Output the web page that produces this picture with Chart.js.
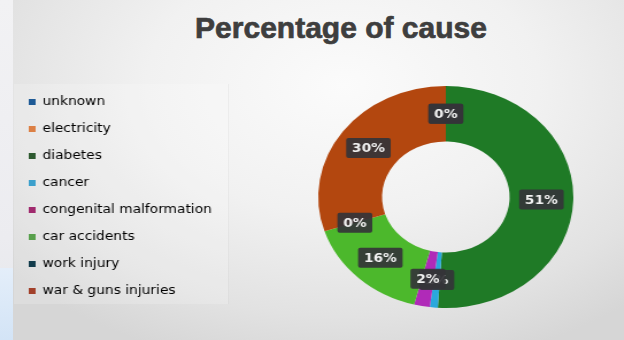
<!DOCTYPE html>
<html>
<head>
<meta charset="utf-8">
<script src="https://cdn.jsdelivr.net/npm/chart.js@4.4.1/dist/chart.umd.min.js"></script>
<style>
  html, body { margin:0; padding:0; width:624px; height:340px; overflow:hidden; }
  body {
    position:relative;
    background: radial-gradient(ellipse 70% 85% at 55% 25%, #fbfbfb 0%, #f1f1f1 45%, #e2e2e2 80%, #d6d6d6 100%);
  }
  #strip { position:absolute; left:0; top:0; width:13px; height:340px;
    background: linear-gradient(#f2f2f4 0%, #ececf0 70%, #e4e6ea 100%); }
  #blue { position:absolute; left:0; top:268px; width:13px; height:72px;
    background: linear-gradient(#e4eefa, #d3e4f6); }
  #panel { position:absolute; left:14px; top:84px; width:214px; height:220px;
    background: rgba(255,255,255,0.18); border-right:1px solid rgba(0,0,0,0.04); }
  #title { position:absolute; left:191px; top:13px; width:300px; text-align:center;
    font: bold 30px "Liberation Sans", Arial, sans-serif; line-height:30px; color:#3e3e3e; white-space:nowrap;
    -webkit-text-stroke: 0.7px #3e3e3e; }
  #wrap { position:absolute; left:0; top:0; width:543px; height:340px;
    transform: scaleX(1.149); transform-origin: 0 0; }
</style>
</head>
<body>
<div id="strip"></div>
<div id="blue"></div>
<div id="panel"></div>
<div id="title">Percentage of cause</div>
<div id="wrap"><canvas id="c" width="543" height="340"></canvas></div>
<script>
const categories = ['unknown', 'electricity', 'diabetes', 'cancer', 'congenital malformation', 'car accidents', 'work injury', 'war & guns injuries'];
const percentages = [0, 0, 51, 1, 2, 16, 0, 30];
const sliceColors = ['#1f5fa0', '#e07a30', '#1f7a26', '#2aa8dc', '#b02ab8', '#4cb82c', '#0f3d52', '#b3470f'];
const legendColors = ['#1e5a96', '#dc8045', '#2e5a30', '#3ca0cc', '#a02a6e', '#58a04c', '#123c4c', '#a2402a'];

const labelPlugin = {
  id: 'sliceLabels',
  afterDatasetsDraw(chart) {
    const ctx = chart.ctx;
    const meta = chart.getDatasetMeta(0);
    const data = chart.data.datasets[0].data;
    ctx.save();
    ctx.font = 'bold 12px "DejaVu Sans", sans-serif';
    ctx.textAlign = 'center';
    ctx.textBaseline = 'middle';
    meta.data.forEach((arc, i) => {
      const p = arc.tooltipPosition();
      const txt = data[i] + '%';
      const w = ctx.measureText(txt).width + 10;
      const h = 20;
      ctx.fillStyle = 'rgba(52,52,56,0.92)';
      ctx.beginPath();
      ctx.roundRect(p.x - w / 2, p.y - h / 2, w, h, 2);
      ctx.fill();
      ctx.fillStyle = '#f2f2f2';
      ctx.fillText(txt, p.x, p.y + 1);
    });
    ctx.restore();
  }
};

const chart = new Chart(document.getElementById('c'), {
  type: 'doughnut',
  data: {
    labels: categories,
    datasets: [{
      data: percentages,
      backgroundColor: sliceColors,
      borderWidth: 0,
      radius: 111,
      cutout: '50%'
    }]
  },
  options: {
    responsive: false,
    animation: false,
    layout: { padding: { left: 10, right: 0, top: 81, bottom: 27 } },
    plugins: {
      title: { display: false },
      tooltip: { enabled: false },
      legend: {
        position: 'left',
        align: 'start',
        labels: {
          boxWidth: 6,
          boxHeight: 6,
          padding: 15,
          color: '#606060',
          font: { family: '"DejaVu Sans", sans-serif', size: 12 },
          generateLabels(ch) {
            return ch.data.labels.map((t, i) => ({
              text: t,
              fillStyle: legendColors[i],
              strokeStyle: legendColors[i],
              lineWidth: 0,
              hidden: false,
              index: i
            }));
          }
        }
      }
    }
  },
  plugins: [labelPlugin]
});

const LEGEND_WIDTH = 223;
const origFit = chart.legend.fit;
chart.legend.fit = function () {
  origFit.call(this);
  this.width = LEGEND_WIDTH;
};
chart.update('none');
</script>
</body>
</html>
